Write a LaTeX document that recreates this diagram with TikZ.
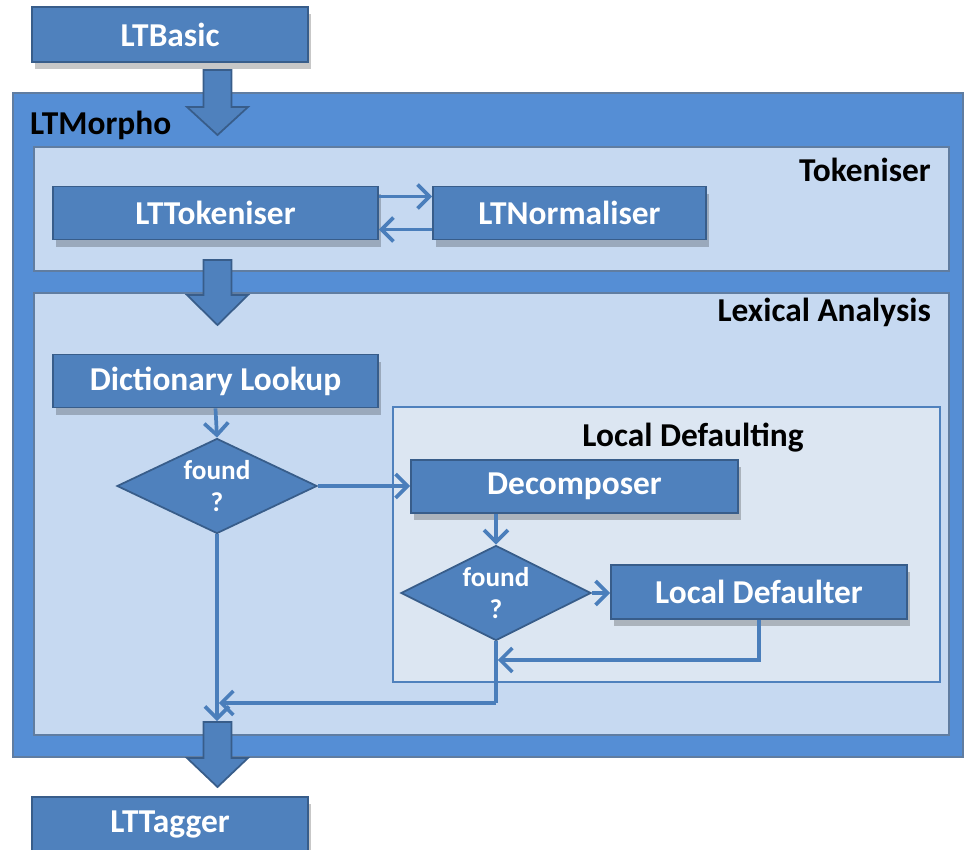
\documentclass[tikz,border=0pt]{standalone}
\usepackage{fontspec}
\setmainfont{Carlito}
\usetikzlibrary{shapes.geometric,arrows.meta,shadows}

\definecolor{boxblue}{HTML}{4F81BD}
\definecolor{boxedge}{HTML}{385D8A}
\definecolor{morphoblue}{HTML}{558ED5}
\definecolor{tokblue}{HTML}{C6D9F1}
\definecolor{ldblue}{HTML}{DCE6F2}
\definecolor{flowblue}{HTML}{4A7EBB}

\tikzset{
  stage/.style={rectangle,draw=boxedge,line width=1pt,fill=boxblue,text=white,
    font=\fontsize{19}{21}\selectfont\bfseries,minimum height=1.06cm,
    drop shadow={shadow xshift=0.06cm,shadow yshift=-0.14cm,opacity=0.22,fill=black}},
  decision/.style={diamond,aspect=2,draw=boxedge,line width=1pt,fill=boxblue,text=white,
    font=\fontsize{15.5}{18}\selectfont\bfseries,align=center,inner sep=0pt},
  flow/.style={draw=flowblue,line width=2.1pt,-{Straight Barb[length=2.4mm,width=4.8mm]}},
  bigarrow/.style={fill=boxblue,draw=boxedge,line width=1pt},
  caption/.style={font=\fontsize{19}{21}\selectfont\bfseries}
}

\newcommand{\downarrowat}[3]{%
  \filldraw[bigarrow] (4.07,#1) -- (4.07,#2) -- (3.74,#2) -- (4.35,#3)
    -- (4.96,#2) -- (4.63,#2) -- (4.63,#1) -- cycle;}

\begin{document}
\begin{tikzpicture}

\useasboundingbox (0,0) rectangle (19.3,-17);

\filldraw[fill=morphoblue,draw=boxedge!80,line width=0.8pt] (0.26,-1.86) rectangle (19.26,-15.14);
\filldraw[fill=tokblue,draw=boxedge!80,line width=0.8pt] (0.68,-2.94) rectangle (18.98,-5.42);
\filldraw[fill=tokblue,draw=boxedge!80,line width=0.8pt] (0.68,-5.86) rectangle (18.98,-14.7);
\filldraw[fill=ldblue,draw=boxblue,line width=0.6pt] (7.86,-8.14) rectangle (18.8,-13.64);

% LTBasic feeds LTMorpho
\downarrowat{-1.4}{-2.14}{-2.7}
\downarrowat{-5.2}{-5.9}{-6.5}

\node[caption,anchor=west] (morpho) at (0.48,-2.5) {LTMorpho};
\node[caption,anchor=east] (toktitle) at (18.74,-3.4) {Tokeniser};
\node[caption,anchor=east] (lextitle) at (18.74,-6.24) {Lexical Analysis};
\node[caption] (ldtitle) at (13.86,-8.76) {Local Defaulting};

\node[stage,minimum width=5.52cm,minimum height=1.1cm] (basic) at (3.4,-0.69) {LTBasic};
\node[stage,minimum width=6.5cm] (tokeniser) at (4.31,-4.26) {LTTokeniser};
\node[stage,minimum width=5.46cm] (normaliser) at (11.39,-4.26) {LTNormaliser};
\node[stage,minimum width=6.5cm] (lookup) at (4.31,-7.62) {Dictionary Lookup};
\node[stage,minimum width=6.54cm] (decomposer) at (11.49,-9.73) {Decomposer};
\node[stage,minimum width=5.92cm,minimum height=1.08cm] (defaulter) at (15.18,-11.84) {Local Defaulter};
\node[stage,minimum width=5.52cm,minimum height=1.1cm] (tagger) at (3.4,-16.49) {LTTagger};

\node[decision,minimum width=4cm,minimum height=1.9cm] (found1) at (4.34,-9.72) {found\\?};
\node[decision,minimum width=3.8cm,minimum height=1.9cm] (found2) at (9.92,-11.86) {found\\?};

\coordinate (join2) at (found2.south |- 0,-13.2);
\coordinate (join1) at (found1.south |- 0,-14.06);
\coordinate (intake) at (found1.south |- 0,-14.42);

\draw[flow] ([yshift=0.33cm]tokeniser.east) -- ([yshift=0.33cm]normaliser.west);
\draw[flow] ([yshift=-0.33cm]normaliser.west) -- ([yshift=-0.33cm]tokeniser.east);

\draw[flow] (lookup.south) -- (found1.north);
\draw[flow] (found1.east) -- (found1.east -| decomposer.west);
\draw[flow] (found2.north |- decomposer.south) -- (found2.north);
\draw[flow] (found2.east) -- (found2.east -| defaulter.west);
\draw[flow] (defaulter.south) |- ([xshift=1pt]join2);
\draw[draw=flowblue,line width=2.1pt] (found2.south) -- (join2) -- (found2.south |- join1);
\draw[flow] (found2.south |- join1) -- ([xshift=1pt]join1);
\draw[flow] (found1.south) -- (intake);

% LTMorpho hands over to LTTagger
\downarrowat{-14.44}{-15.16}{-15.74}

\end{tikzpicture}
\end{document}
